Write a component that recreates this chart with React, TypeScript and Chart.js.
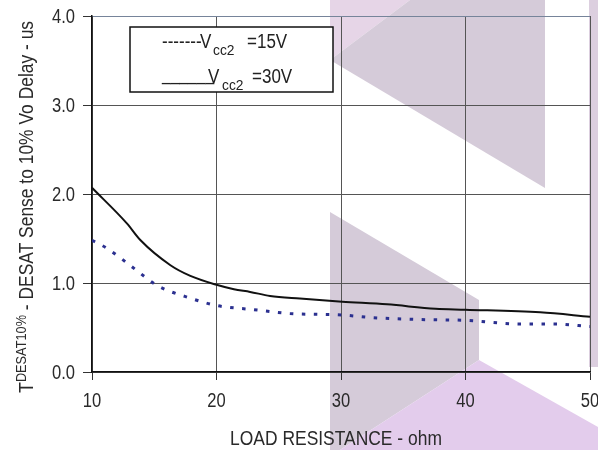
import React, { useEffect, useRef } from "react";
import { Chart, registerables } from "chart.js";

Chart.register(...registerables);

const FONT = '"Liberation Sans", Arial, sans-serif';
const NARROW = 0.85;

// Tick values
const xTicks = [10, 20, 30, 40, 50];
const yTicks = [0, 1, 2, 3, 4];

// Vcc2 = 30V (solid)
const solidX = [10, 12.8, 13.9, 16.3, 17.9, 20.0, 21.4, 22.7, 24.3, 26.7, 30.1, 33.7, 37.6, 40.0, 46.0, 50];
const solidY = [2.07, 1.67, 1.48, 1.2, 1.08, 0.98, 0.93, 0.9, 0.855, 0.825, 0.79, 0.76, 0.71, 0.7, 0.67, 0.62];

// Vcc2 = 15V (dotted)
const dotX = [10, 11.2, 13.6, 15.2, 18.0, 20.0, 23.0, 25.9, 30.1, 32.6, 36.3, 40.0, 44.4, 47.1, 50];
const dotY = [1.48, 1.39, 1.14, 0.975, 0.825, 0.747, 0.7, 0.657, 0.64, 0.61, 0.59, 0.58, 0.54, 0.54, 0.51];

const xTitle = "LOAD RESISTANCE - ohm";
const yTitleMain = "T";
const yTitleSup = "DESAT10%";
const yTitleRest = " - DESAT Sense to 10% Vo Delay - us";

const legendRows = [
  { lead: "-------", sub: "cc2", value: "=15V" },
  { lead: "______", sub: "cc2", value: "=30V" },
];

const watermark = {
  id: "watermark",
  beforeDraw(chart: any) {
    const ctx = chart.ctx;
    ctx.save();
    const poly = (pts: number[][], color: string) => {
      ctx.beginPath();
      ctx.moveTo(pts[0][0], pts[0][1]);
      for (let i = 1; i < pts.length; i++) ctx.lineTo(pts[i][0], pts[i][1]);
      ctx.closePath();
      ctx.fillStyle = color;
      ctx.fill();
    };
    poly([[330, 0], [410, 0], [330, 60]], "#e6d5e7");
    poly([[410, 0], [545, 0], [545, 188], [330, 60]], "#d5cbd9");
    poly([[330, 212], [479, 300], [479, 360], [340, 450], [330, 450]], "#d5cbd9");
    poly([[479, 360], [598, 427], [598, 450], [340, 450]], "#e3ccec");
    poly([[589, 0], [598, 0], [598, 367], [589, 367]], "#dccfdf");
    ctx.restore();
  },
};

function txt(ctx: any, s: string, x: number, y: number, size: number, align: string, sx = NARROW, rot = 0) {
  ctx.save();
  ctx.translate(x, y);
  if (rot) ctx.rotate(rot);
  ctx.scale(sx, 1);
  ctx.font = `${size}px ${FONT}`;
  ctx.textAlign = align;
  ctx.textBaseline = "alphabetic";
  ctx.fillText(s, 0, 0);
  const w = ctx.measureText(s).width * sx;
  ctx.restore();
  return w;
}

const annotations = {
  id: "annotations",
  afterDraw(chart: any) {
    const ctx = chart.ctx;
    const xs = chart.scales.x;
    const ys = chart.scales.y;
    ctx.save();
    ctx.fillStyle = "#2a2a2a";
    // tick labels
    for (const v of yTicks) {
      txt(ctx, v.toFixed(1), 75, ys.getPixelForValue(v) + 7, 19.5, "right");
    }
    for (const v of xTicks) {
      txt(ctx, String(v), xs.getPixelForValue(v), 407, 19.5, "center");
    }
    // x title
    txt(ctx, xTitle, 336, 445, 21, "center", 0.83);

    // legend box
    ctx.fillStyle = "#ffffff";
    ctx.fillRect(130, 27, 203, 65);
    ctx.strokeStyle = "#111";
    ctx.lineWidth = 1.5;
    ctx.strokeRect(130, 27, 203, 65);
    ctx.fillStyle = "#222";
    const rowPos = [
      { y: 48, lead: 48, v: 200, sub: 213, val: 247 },
      { y: 83, lead: 80, v: 208, sub: 222, val: 252 },
    ];
    legendRows.forEach((r, i) => {
      const p = rowPos[i];
      txt(ctx, r.lead, 162, p.lead, 20, "left", i === 1 ? 0.78 : NARROW);
      txt(ctx, "V", p.v, p.y, 20, "left");
      txt(ctx, r.sub, p.sub, p.y + 7, 15, "left", 0.92);
      txt(ctx, r.value, p.val, p.y, 20, "left");
    });

    // y title (rotated)
    ctx.fillStyle = "#2a2a2a";
    const rot = -Math.PI / 2;
    let yPos = 393;
    const wT = txt(ctx, yTitleMain, 33, yPos, 21, "left", NARROW, rot);
    yPos -= wT;
    const wS = txt(ctx, yTitleSup, 26, yPos, 15, "left", NARROW, rot);
    yPos -= wS;
    txt(ctx, yTitleRest, 33, yPos, 20.5, "left", NARROW, rot);
    ctx.restore();
  },
};

export default function App() {
  const ref = useRef<HTMLCanvasElement | null>(null);
  useEffect(() => {
    document.body.style.margin = "0";
    const canvas = ref.current!;
    const chart = new Chart(canvas, {
      type: "line",
      data: {
        datasets: [
          {
            label: "Vcc2 = 15V",
            data: dotX.map((x, i) => ({ x, y: dotY[i] })),
            borderColor: "#2b3090",
            borderWidth: 3,
            borderDash: [3.5, 8.5],
            borderCapStyle: "butt",
            pointRadius: 0,
            cubicInterpolationMode: "monotone",
            fill: false,
          },
          {
            label: "Vcc2 = 30V",
            data: solidX.map((x, i) => ({ x, y: solidY[i] })),
            borderColor: "#111111",
            borderWidth: 2,
            pointRadius: 0,
            cubicInterpolationMode: "monotone",
            fill: false,
          },
        ],
      },
      options: {
        responsive: false,
        animation: false,
        devicePixelRatio: 1,
        layout: { padding: { left: 0, top: 16, right: 8, bottom: 0 } },
        plugins: {
          legend: { display: false },
          tooltip: { enabled: false },
        },
        scales: {
          x: {
            type: "linear",
            min: 10,
            max: 50,
            afterBuildTicks: (s: any) => {
              s.ticks = xTicks.map((v) => ({ value: v }));
            },
            afterFit: (s: any) => {
              s.height = 78;
            },
            grid: { color: "#555", lineWidth: 1, tickLength: 8, tickColor: "#333" },
            border: { color: "#111", width: 1.5 },
            ticks: { display: false },
          },
          y: {
            type: "linear",
            min: 0,
            max: 4,
            afterBuildTicks: (s: any) => {
              s.ticks = yTicks.map((v) => ({ value: v }));
            },
            afterFit: (s: any) => {
              s.width = 92;
            },
            grid: {
              color: (c: any) => (c.tick && c.tick.value === 4 ? "#76849a" : "#555"),
              lineWidth: 1,
              tickLength: 9,
              tickColor: "#333",
            },
            border: { color: "#111", width: 1.5 },
            ticks: { display: false },
          },
        },
      },
      plugins: [watermark, annotations],
    } as any);
    return () => chart.destroy();
  }, []);
  return (
    <div style={{ position: "absolute", left: 0, top: 0, width: 598, height: 450 }}>
      <canvas ref={ref} width={598} height={450} style={{ width: 598, height: 450 }} />
    </div>
  );
}
